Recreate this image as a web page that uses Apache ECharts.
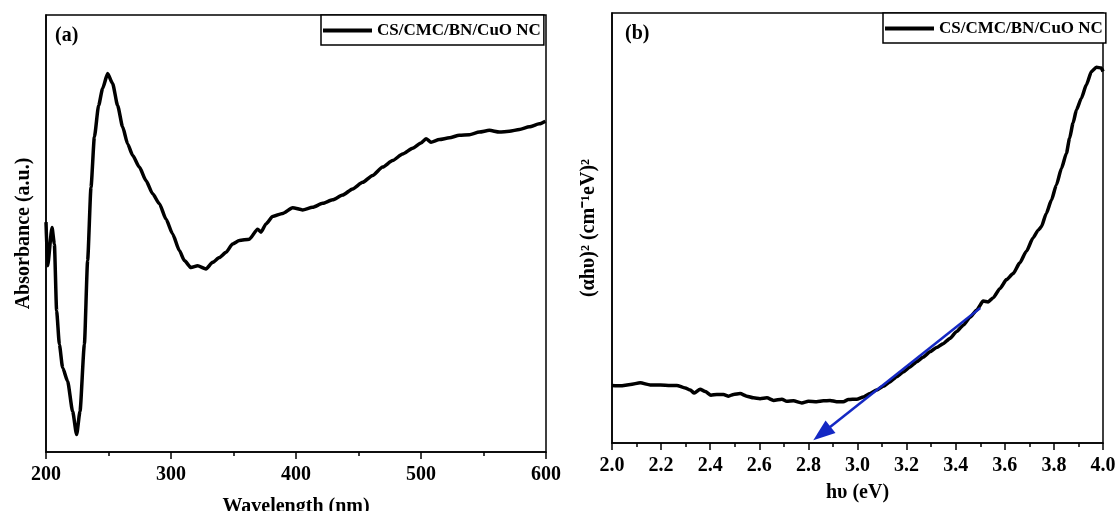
<!DOCTYPE html>
<html>
<head>
<meta charset="utf-8">
<script src="https://cdn.jsdelivr.net/npm/echarts@6/dist/echarts.min.js"></script>
<style>
  html, body { margin: 0; padding: 0; background: #fff; }
  #chart { width: 1118px; height: 511px; }
</style>
</head>
<body>
<div id="chart"></div>
<script>
// ---- data ----
const seriesName = 'CS/CMC/BN/CuO NC';

// (a) UV-vis absorbance, arbitrary units
const wavelength = [200, 201.3, 204.8, 206.7, 208.5, 210.7, 213.3, 217.3, 221.3, 224.5,
  227.2, 230.7, 233.3, 236, 238.7, 242.1, 245.3, 249.3, 253.3, 257.3,
  261.3, 265.3, 269.3, 274.7, 280, 285.3, 290.7, 296, 301.3, 306.7,
  310.7, 316, 321.3, 328, 333.3, 338.7, 344, 349.3, 354.7, 362.7,
  369.3, 372, 376, 381.3, 389.3, 397.3, 405.3, 413.3, 421.3, 429.3,
  437.3, 445.3, 453.3, 461.3, 469.3, 477.3, 485.3, 493.3, 500, 504,
  508, 514.7, 522.7, 530.7, 538.7, 546.7, 554.7, 562.7, 570.7, 578.7,
  586.7, 594.7, 599.5];
const absorbance = [0.526, 0.426, 0.514, 0.476, 0.323, 0.246, 0.193, 0.162, 0.093, 0.040,
  0.093, 0.246, 0.438, 0.606, 0.721, 0.793, 0.832, 0.866, 0.843, 0.793,
  0.744, 0.705, 0.679, 0.652, 0.621, 0.591, 0.568, 0.533, 0.499, 0.461,
  0.438, 0.422, 0.426, 0.419, 0.434, 0.445, 0.457, 0.476, 0.484, 0.487,
  0.510, 0.503, 0.522, 0.539, 0.546, 0.559, 0.554, 0.560, 0.569, 0.577,
  0.588, 0.602, 0.617, 0.633, 0.652, 0.667, 0.682, 0.695, 0.707, 0.717,
  0.709, 0.715, 0.719, 0.725, 0.726, 0.732, 0.736, 0.732, 0.734, 0.738,
  0.744, 0.751, 0.757];

// (b) Tauc plot, arbitrary units
const photonEnergy = [2.000, 2.034, 2.075, 2.115, 2.156, 2.197, 2.237, 2.264, 2.298, 2.319,
  2.335, 2.359, 2.380, 2.403, 2.427, 2.454, 2.475, 2.495, 2.522, 2.549,
  2.576, 2.603, 2.631, 2.658, 2.692, 2.712, 2.739, 2.773, 2.800, 2.834,
  2.861, 2.888, 2.915, 2.942, 2.963, 2.997, 3.024, 3.051, 3.078, 3.105,
  3.132, 3.159, 3.186, 3.214, 3.241, 3.268, 3.295, 3.322, 3.349, 3.376,
  3.403, 3.431, 3.458, 3.485, 3.512, 3.532, 3.553, 3.580, 3.607, 3.634,
  3.661, 3.688, 3.715, 3.736, 3.749, 3.769, 3.790, 3.810, 3.831, 3.851,
  3.864, 3.878, 3.892, 3.912, 3.932, 3.953, 3.973, 3.993, 4.000];
const tauc = [0.134, 0.133, 0.136, 0.140, 0.135, 0.135, 0.134, 0.134, 0.128, 0.123,
  0.116, 0.125, 0.120, 0.111, 0.113, 0.113, 0.109, 0.113, 0.115, 0.109,
  0.105, 0.103, 0.105, 0.099, 0.102, 0.097, 0.098, 0.093, 0.097, 0.096,
  0.098, 0.099, 0.096, 0.096, 0.101, 0.102, 0.107, 0.115, 0.123, 0.132,
  0.142, 0.154, 0.165, 0.177, 0.189, 0.200, 0.212, 0.222, 0.231, 0.243,
  0.259, 0.274, 0.292, 0.309, 0.330, 0.328, 0.338, 0.359, 0.380, 0.394,
  0.419, 0.446, 0.477, 0.495, 0.503, 0.534, 0.565, 0.600, 0.639, 0.674,
  0.709, 0.744, 0.775, 0.802, 0.833, 0.864, 0.874, 0.872, 0.864];

// band-gap extrapolation arrow (start -> arrowhead centre, tip lands near 2.82 eV)
const arrowStart = [3.50, 0.314];
const arrowEnd = [2.855, 0.022];

const font = '"Times New Roman", "Liberation Serif", serif';

const zip = (xs, ys) => xs.map((x, i) => [x, ys[i]]);

const axisLabelStyle = {
  color: '#000',
  fontFamily: font,
  fontWeight: 'bold',
  fontSize: 20,
  margin: 13,
};

const nameStyle = {
  color: '#000',
  fontFamily: font,
  fontWeight: 'bold',
  fontSize: 20,
};

const legendCommon = {
  orient: 'horizontal',
  data: [{ name: seriesName, icon: 'rect' }],
  padding: [6, 3, 5, 2],
  itemWidth: 49,
  itemHeight: 4,
  borderColor: '#000',
  borderWidth: 1.5,
  backgroundColor: '#fff',
  itemStyle: { color: '#000', borderWidth: 0 },
  textStyle: {
    color: '#000',
    fontFamily: font,
    fontWeight: 'bold',
    fontSize: 17,
    lineHeight: 19,
  },
};

const option = {
  animation: false,
  backgroundColor: '#fff',
  title: [
    { text: '(a)', left: 55, top: 26, padding: 0, textStyle: { ...nameStyle } },
    { text: '(b)', left: 625, top: 24, padding: 0, textStyle: { ...nameStyle } },
  ],
  legend: [
    { ...legendCommon, left: 321, top: 15 },
    { ...legendCommon, left: 883, top: 13 },
  ],
  grid: [
    { left: 46, top: 15, right: 572, bottom: 59, show: true, borderColor: '#000', borderWidth: 1.5, outerBoundsMode: 'none', containLabel: false },
    { left: 612, top: 13, right: 15, bottom: 68, show: true, borderColor: '#000', borderWidth: 1.5, outerBoundsMode: 'none', containLabel: false },
  ],
  xAxis: [
    {
      gridIndex: 0,
      type: 'value',
      min: 200,
      max: 600,
      interval: 100,
      name: 'Wavelength (nm)',
      nameLocation: 'middle',
      nameGap: 45,
      nameTextStyle: nameStyle,
      axisLine: { show: true, lineStyle: { color: '#000', width: 1.5 } },
      axisTick: { show: true, length: 7, lineStyle: { color: '#000', width: 1.5 } },
      minorTick: { show: true, splitNumber: 2, length: 4, lineStyle: { color: '#000', width: 1.5 } },
      axisLabel: axisLabelStyle,
      splitLine: { show: false },
    },
    {
      gridIndex: 1,
      type: 'value',
      min: 2.0,
      max: 4.0,
      interval: 0.2,
      name: 'h\u03c5 (eV)',
      nameLocation: 'middle',
      nameGap: 40,
      nameTextStyle: nameStyle,
      axisLine: { show: true, lineStyle: { color: '#000', width: 1.5 } },
      axisTick: { show: true, length: 7, lineStyle: { color: '#000', width: 1.5 } },
      minorTick: { show: true, splitNumber: 2, length: 4, lineStyle: { color: '#000', width: 1.5 } },
      axisLabel: { ...axisLabelStyle, formatter: (v) => v.toFixed(1) },
      splitLine: { show: false },
    },
  ],
  yAxis: [
    {
      gridIndex: 0,
      type: 'value',
      min: 0,
      max: 1,
      name: 'Absorbance (a.u.)',
      nameLocation: 'middle',
      nameGap: 12,
      nameTextStyle: nameStyle,
      axisLine: { show: true, lineStyle: { color: '#000', width: 1.5 } },
      axisTick: { show: false },
      axisLabel: { show: false },
      splitLine: { show: false },
    },
    {
      gridIndex: 1,
      type: 'value',
      min: 0,
      max: 1,
      name: '(\u03b1h\u03c5)\u00b2 (cm\u207b\u00b9eV)\u00b2',
      nameLocation: 'middle',
      nameGap: 13,
      nameTextStyle: nameStyle,
      axisLine: { show: true, lineStyle: { color: '#000', width: 1.5 } },
      axisTick: { show: false },
      axisLabel: { show: false },
      splitLine: { show: false },
    },
  ],
  series: [
    {
      name: seriesName,
      type: 'line',
      xAxisIndex: 0,
      yAxisIndex: 0,
      data: zip(wavelength, absorbance),
      symbol: 'none',
      smooth: 0.2,
      smoothMonotone: 'x',
      lineStyle: { color: '#000', width: 3.5 },
      itemStyle: { color: '#000' },
    },
    {
      name: seriesName,
      type: 'line',
      xAxisIndex: 1,
      yAxisIndex: 1,
      data: zip(photonEnergy, tauc),
      symbol: 'none',
      smooth: 0.2,
      smoothMonotone: 'x',
      lineStyle: { color: '#000', width: 3.5 },
      itemStyle: { color: '#000' },
      markLine: {
        silent: true,
        symbol: ['none', 'triangle'],
        symbolSize: [16, 22],
        label: { show: false },
        itemStyle: { color: '#1428c4' },
        lineStyle: { color: '#1428c4', width: 2.5, type: 'solid' },
        data: [[{ coord: arrowStart }, { coord: arrowEnd }]],
      },
    },
  ],
};

const chart = echarts.init(document.getElementById('chart'), null, { renderer: 'canvas' });
chart.setOption(option);
</script>
</body>
</html>
